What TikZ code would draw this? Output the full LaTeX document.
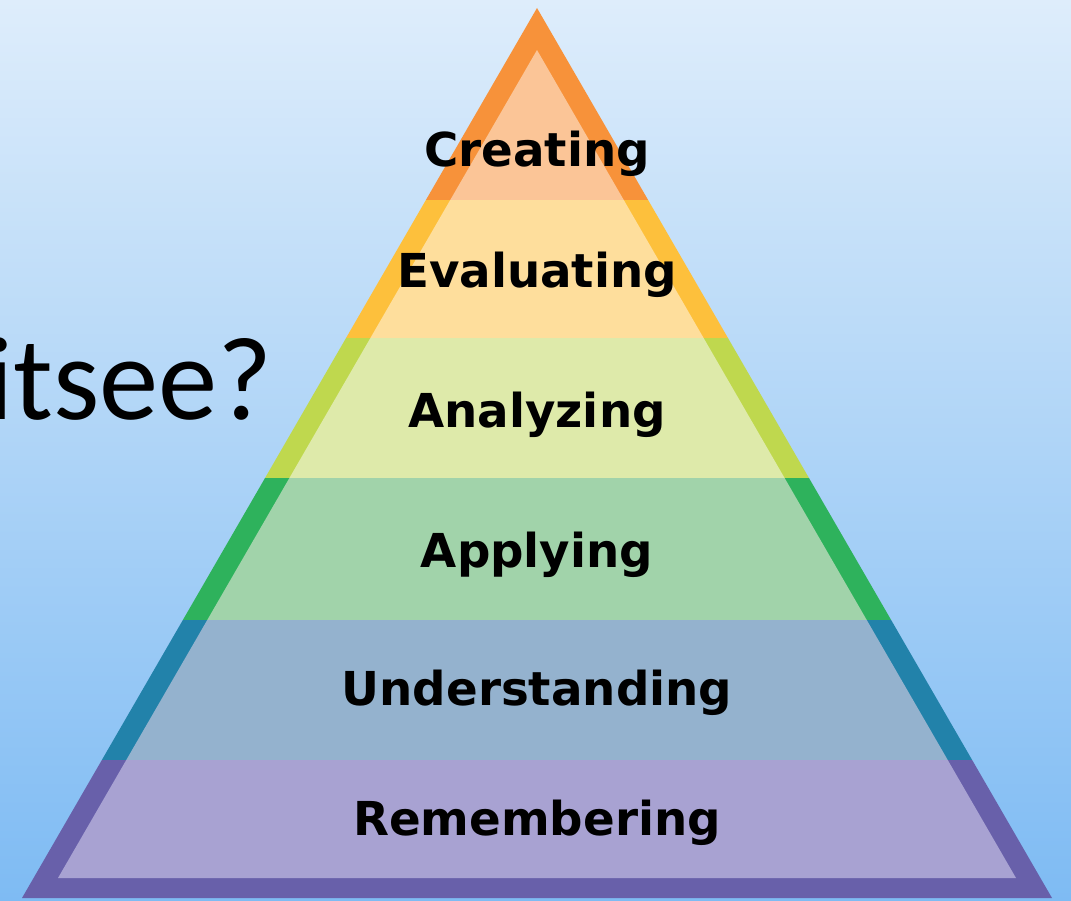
\documentclass[tikz,border=0pt]{standalone}
\usepackage{fontspec}
\usepackage{xcolor}
\newfontfamily\layerfont{DejaVu Sans}
\newfontfamily\titlefont{Carlito}
\definecolor{skytop}{RGB}{222,237,251}
\definecolor{skybot}{RGB}{126,187,243}
\definecolor{cre_b}{RGB}{247,146,58}
\definecolor{cre_f}{RGB}{251,197,151}
\definecolor{eva_b}{RGB}{253,192,60}
\definecolor{eva_f}{RGB}{254,222,156}
\definecolor{ana_b}{RGB}{191,216,78}
\definecolor{ana_f}{RGB}{222,234,170}
\definecolor{app_b}{RGB}{46,178,92}
\definecolor{app_f}{RGB}{161,211,170}
\definecolor{und_b}{RGB}{34,130,170}
\definecolor{und_f}{RGB}{148,178,206}
\definecolor{rem_b}{RGB}{104,96,170}
\definecolor{rem_f}{RGB}{168,162,210}
\tikzstyle{layer} = [font=\layerfont\bfseries\fontsize{26.6}{30}\selectfont, anchor=base, inner sep=0pt]
\tikzstyle{question} = [font=\titlefont\fontsize{67.5}{72}\selectfont, anchor=base west, inner sep=0pt]

\begin{document}
\begin{tikzpicture}[x=0.02cm,y=-0.02cm]
  \useasboundingbox (0,0) rectangle (1071,901);
  \clip (0,0) rectangle (1071,901);
  \shade[top color=skytop, bottom color=skybot] (0,0) rectangle (1071,901);

  \node[question] (Q) at (-14,420) {itsee?};

  % outer triangle = coloured rim
  \begin{scope}
    \clip (537,8) -- (22,898) -- (1052,898) -- cycle;
    \fill[cre_b] (0,0) rectangle (1071,200);
    \fill[eva_b] (0,200) rectangle (1071,338);
    \fill[ana_b] (0,338) rectangle (1071,478);
    \fill[app_b] (0,478) rectangle (1071,620);
    \fill[und_b] (0,620) rectangle (1071,760);
    \fill[rem_b] (0,760) rectangle (1071,901);
  \end{scope}
  % inner triangle = pale layers
  \begin{scope}
    \clip (537,50) -- (58,878) -- (1016,878) -- cycle;
    \fill[cre_f] (0,0) rectangle (1071,200);
    \fill[eva_f] (0,200) rectangle (1071,338);
    \fill[ana_f] (0,338) rectangle (1071,478);
    \fill[app_f] (0,478) rectangle (1071,620);
    \fill[und_f] (0,620) rectangle (1071,760);
    \fill[rem_f] (0,760) rectangle (1071,901);
  \end{scope}

  \node[layer] (C) at (537,167) {Creating};
  \node[layer] (E) at (537,288) {Evaluating};
  \node[layer] (An) at (537,428) {Analyzing};
  \node[layer] (Ap) at (537,567) {Applying};
  \node[layer] (U) at (537,705) {Understanding};
  \node[layer] (R) at (537,835) {Remembering};
\end{tikzpicture}
\end{document}
